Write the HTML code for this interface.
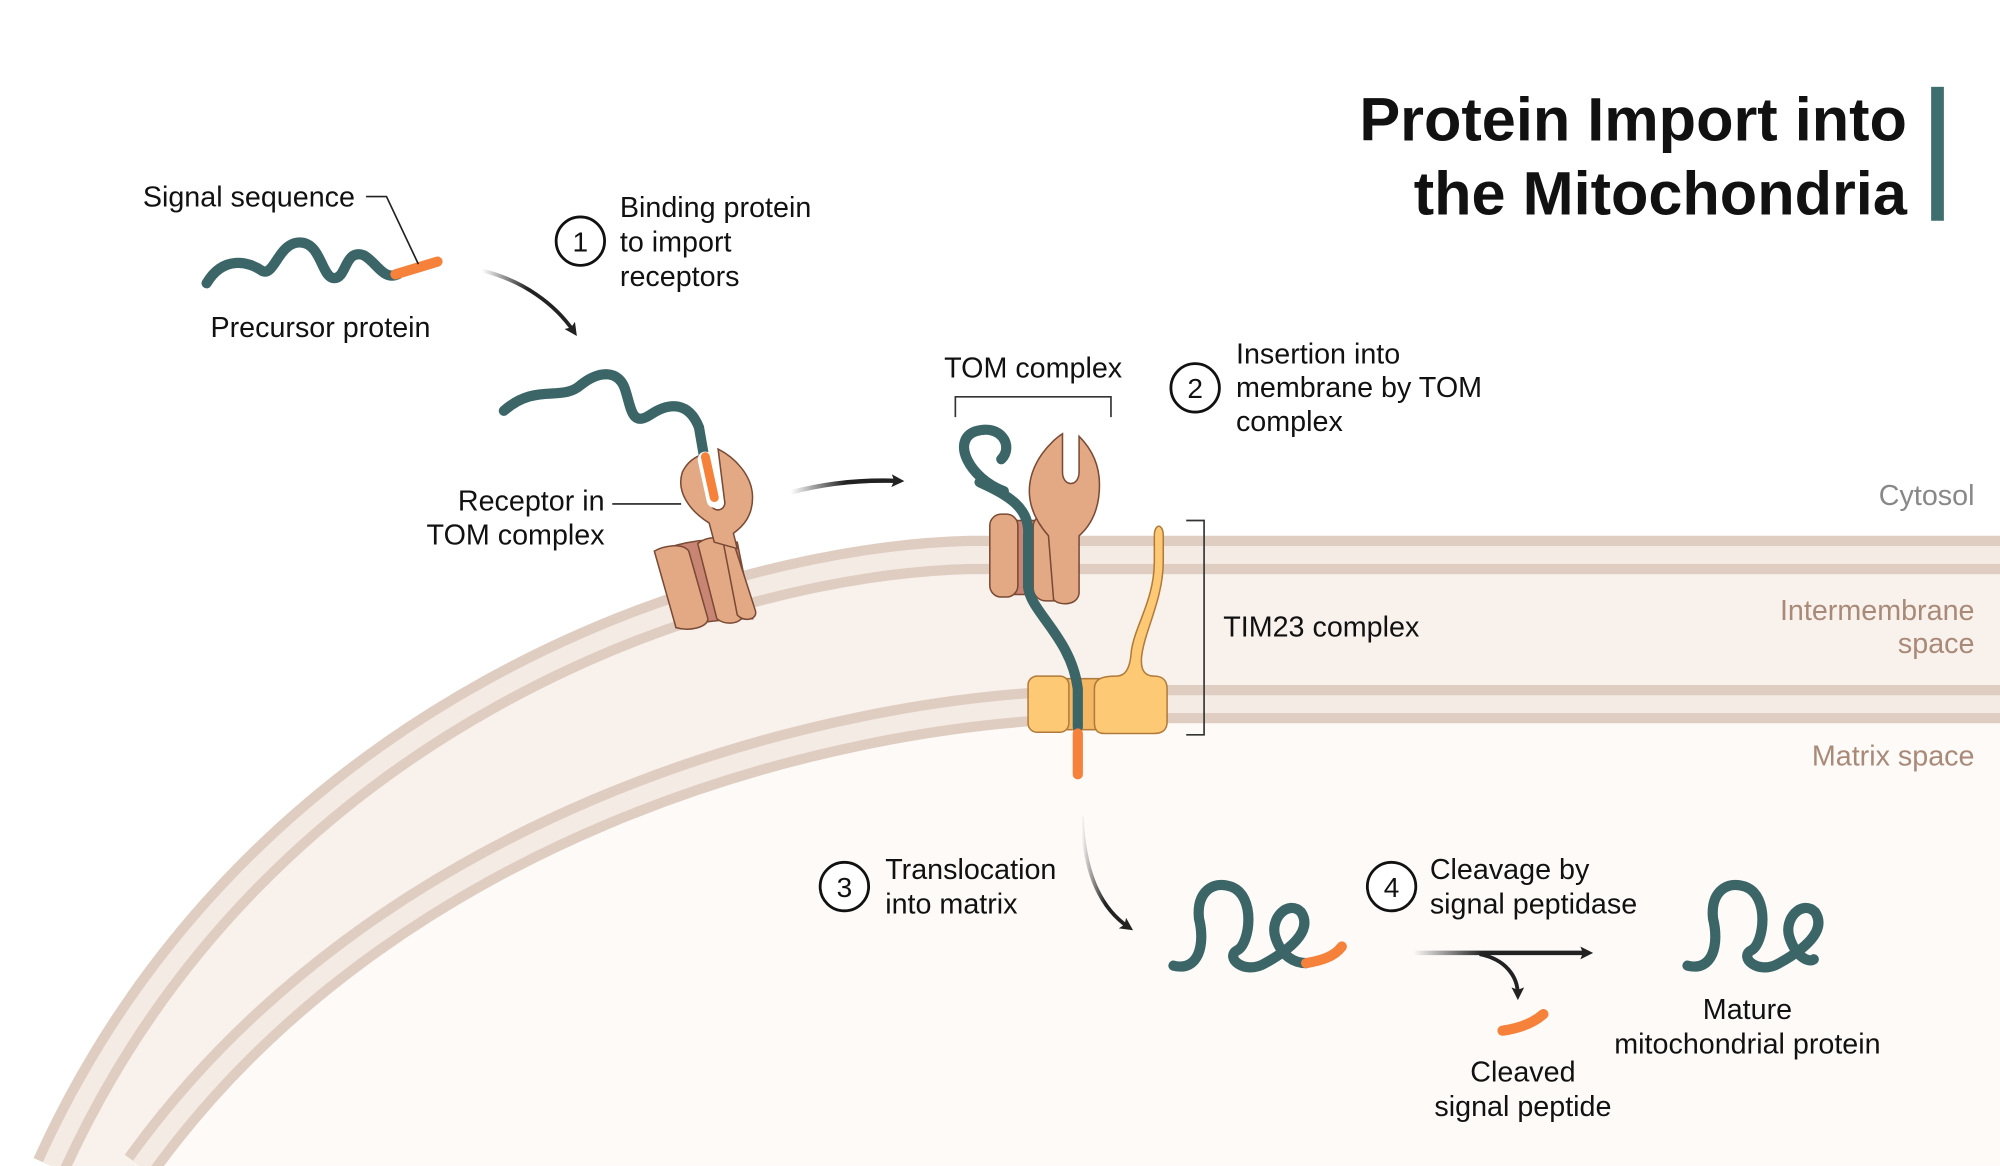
<!DOCTYPE html>
<html><head><meta charset="utf-8"><style>
html,body{margin:0;padding:0;background:#fff}
svg{display:block}
text{font-family:"Liberation Sans",sans-serif;fill:#111}
</style></head><body>
<svg width="2000" height="1166" viewBox="0 0 1568 914" xmlns="http://www.w3.org/2000/svg">
<defs>
<marker id="ah" markerWidth="10" markerHeight="10" refX="6" refY="5" orient="auto" markerUnits="userSpaceOnUse"><path d="M0,0 L10,5 L0,10 L2,5Z" fill="#222"/></marker>
<linearGradient id="fade" x1="0" x2="1"><stop offset="0" stop-color="#222" stop-opacity="0"/><stop offset="0.5" stop-color="#222"/></linearGradient>
<linearGradient id="fadeH" gradientUnits="userSpaceOnUse" x1="1108" y1="0" x2="1245" y2="0"><stop offset="0" stop-color="#222" stop-opacity="0"/><stop offset="0.4" stop-color="#222"/></linearGradient>
</defs>
<rect width="1568" height="914" fill="#fff"/>
<path d="M1568,435 L760,435 C560,440 200,560 40,914 L110,914 C300,650 640,555 860,552 L1568,552Z" fill="#f8f1ec"/>
<path d="M1568,552 L860,552 C640,555 300,650 110,914 L1568,914Z" fill="#fdfaf8"/>
<g fill="none">
<path d="M1568,435 L760,435 C560,440 200,560 40,914" stroke="#e0cdc1" stroke-width="30"/>
<path d="M1568,435 L760,435 C560,440 200,560 40,914" stroke="#f4ebe5" stroke-width="14"/>
<path d="M1568,552 L860,552 C640,555 300,650 110,914" stroke="#e0cdc1" stroke-width="30"/>
<path d="M1568,552 L860,552 C640,555 300,650 110,914" stroke="#f4ebe5" stroke-width="14"/>
</g>
<text x="1495" y="110" text-anchor="end" font-size="48" font-weight="bold">Protein Import into</text>
<text x="1495" y="168" text-anchor="end" font-size="48" font-weight="bold">the Mitochondria</text>
<rect x="1514" y="68" width="10" height="105" fill="#3f6e6e"/>
<g font-size="22.5" text-anchor="end">
<text x="1548" y="396" style="fill:#888">Cytosol</text>
<text x="1548" y="486" style="fill:#a98a78">Intermembrane</text>
<text x="1548" y="512" style="fill:#a98a78">space</text>
<text x="1548" y="600" style="fill:#a98a78">Matrix space</text>
</g>
<path d="M162,222 C175,200 195,205 205,212 C215,218 218,190 235,190 C252,190 252,218 262,218 C272,218 270,195 285,200 C295,205 300,220 312,215" fill="none" stroke="#3b6566" stroke-width="8" stroke-linecap="round"/>
<path d="M310,215 L343,205" stroke="#f5813a" stroke-width="8" stroke-linecap="round"/>
<g font-size="22.5">
<text x="112" y="162">Signal sequence</text>
<text x="165" y="264">Precursor protein</text>
</g>
<path d="M287,154 L303,154 L328,207" fill="none" stroke="#222" stroke-width="1.3"/>
<circle cx="455" cy="189" r="19" fill="#fff" stroke="#111" stroke-width="2.2"/>
<text x="455" y="197" font-size="22" text-anchor="middle">1</text>
<g font-size="22.5"><text x="486" y="170">Binding protein</text><text x="486" y="197">to import</text><text x="486" y="224">receptors</text></g>
<path d="M378,212 C410,220 435,238 450,260" fill="none" stroke="url(#fade)" stroke-width="3" marker-end="url(#ah)"/>
<g stroke="#7a4a35" stroke-width="1.2">
<path d="M515,432 L530,492 C545,488 570,485 590,485 L578,425 C560,420 535,425 515,432Z" fill="#c98573"/>
<path d="M513,432 C520,428 535,425 540,432 L555,485 C555,492 540,495 530,492Z" fill="#e3a985"/>
<path d="M547,426 C555,420 565,420 570,426 L583,482 C580,490 568,490 562,485Z" fill="#e3a985"/>
<path d="M567,425 L575,425 L592,478 C595,486 583,488 578,482Z" fill="#e3a985"/>
<path d="M560,425 L556,410 C540,400 530,385 535,370 C540,360 548,357 552,356 L557,395 C560,403 570,400 568,392 L563,352 C575,358 590,372 590,390 C590,405 582,413 575,418 L578,430Z" fill="#e3a985"/>
</g>
<path d="M395,322 C420,300 440,315 455,302 C470,290 485,290 490,305 C495,320 495,335 510,325 C525,315 540,315 548,335 L552,358" fill="none" stroke="#3b6566" stroke-width="8" stroke-linecap="round"/>
<path d="M553,360 L560,392" stroke="#fff" stroke-width="12" stroke-linecap="round"/>
<path d="M553,358 L560,390" stroke="#f5813a" stroke-width="7" stroke-linecap="round"/>
<path d="M480,395 L534,395" stroke="#222" stroke-width="1.3"/>
<g font-size="22.5" text-anchor="end"><text x="474" y="400">Receptor in</text><text x="474" y="427">TOM complex</text></g>
<path d="M620,386 C650,378 680,376 705,377" fill="none" stroke="url(#fade)" stroke-width="3.5" marker-end="url(#ah)"/>
<text x="810" y="296" font-size="22.5" text-anchor="middle">TOM complex</text>
<path d="M749,327 L749,311 L871,311 L871,327" fill="none" stroke="#333" stroke-width="1.3"/>
<circle cx="937" cy="304" r="19" fill="#fff" stroke="#111" stroke-width="2.2"/>
<text x="937" y="312" font-size="22" text-anchor="middle">2</text>
<g font-size="22.5"><text x="969" y="285">Insertion into</text><text x="969" y="311">membrane by TOM</text><text x="969" y="338">complex</text></g>
<g stroke="#7a4a35" stroke-width="1.2">
<rect x="784" y="408" width="50" height="58" fill="#c98573"/>
<rect x="776" y="403" width="22" height="65" rx="9" fill="#e3a985"/>
<rect x="810" y="403" width="30" height="68" rx="10" fill="#e3a985"/>
<path d="M826,470 C830,475 845,475 846,465 L846,420 C855,412 862,400 862,380 C862,360 852,348 846,342 L846,370 C846,382 833,382 833,370 L833,340 C825,345 807,362 807,385 C807,400 815,412 822,420Z" fill="#e3a985"/>
</g>
<g stroke="#b07a3a" stroke-width="1.2">
<rect x="832" y="532" width="30" height="40" fill="#f4b865"/>
<rect x="806" y="530" width="32" height="44" rx="7" fill="#fdc974"/>
<path d="M858,540 C858,532 864,530 875,530 C882,530 886,525 887,510 C890,490 905,470 905,440 L905,420 C905,410 912,410 912,420 L912,440 C912,470 897,495 895,515 C894,526 898,530 905,530 C912,530 915,534 915,540 L915,566 C915,573 910,575 905,575 L866,575 C860,575 858,572 858,566Z" fill="#fdc974"/>
</g>
<path d="M787,385 C760,375 745,345 765,338 C785,332 795,350 785,360" fill="none" stroke="#3b6566" stroke-width="8" stroke-linecap="round"/>
<path d="M768,378 C790,388 808,398 806,420 L806,460 C808,480 840,500 845,540 L845,570" fill="none" stroke="#3b6566" stroke-width="8" stroke-linecap="round"/>
<path d="M845,575 L845,607" stroke="#f5813a" stroke-width="8" stroke-linecap="round"/>
<path d="M930,408 L944,408 L944,576 L930,576" fill="none" stroke="#333" stroke-width="1.3"/>
<text x="959" y="499" font-size="22.5">TIM23 complex</text>
<path d="M848,640 C850,680 860,710 885,727" fill="none" stroke="url(#fade)" stroke-width="3" marker-end="url(#ah)"/>
<circle cx="662" cy="695" r="19" fill="#fff" stroke="#111" stroke-width="2.2"/>
<text x="662" y="703" font-size="22" text-anchor="middle">3</text>
<g font-size="22.5"><text x="694" y="689">Translocation</text><text x="694" y="716">into matrix</text></g>
<path d="M920,757 C940,762 945,740 940,720 C938,700 950,690 965,695 C985,702 980,740 970,745 C960,750 975,765 992,755 C1010,745 1030,730 1020,715 C1010,705 995,720 1000,735 C1005,750 1015,755 1024,755" fill="none" stroke="#3b6566" stroke-width="8" stroke-linecap="round"/>
<path d="M1024,755 C1036,753 1046,750 1052,742" fill="none" stroke="#f5813a" stroke-width="8" stroke-linecap="round"/>
<circle cx="1091" cy="695" r="19" fill="#fff" stroke="#111" stroke-width="2.2"/>
<text x="1091" y="703" font-size="22" text-anchor="middle">4</text>
<g font-size="22.5"><text x="1121" y="689">Cleavage by</text><text x="1121" y="716">signal peptidase</text></g>
<path d="M1108,747 L1245,747" stroke="url(#fadeH)" stroke-width="3.5" marker-end="url(#ah)"/>
<path d="M1160,748 C1180,752 1190,765 1190,780" fill="none" stroke="#222" stroke-width="3" marker-end="url(#ah)"/>
<path d="M1178,808 C1192,806 1202,802 1210,795" fill="none" stroke="#f5813a" stroke-width="8" stroke-linecap="round"/>
<g font-size="22.5" text-anchor="middle"><text x="1194" y="848">Cleaved</text><text x="1194" y="875">signal peptide</text></g>
<path d="M1323,757 C1343,762 1348,740 1343,720 C1341,700 1353,690 1368,695 C1388,702 1383,740 1373,745 C1363,750 1378,765 1395,755 C1413,745 1433,730 1423,715 C1413,705 1398,720 1403,735 C1408,750 1418,755 1422,752" fill="none" stroke="#3b6566" stroke-width="8" stroke-linecap="round"/>
<g font-size="22.5" text-anchor="middle"><text x="1370" y="799">Mature</text><text x="1370" y="826">mitochondrial protein</text></g>
</svg>
</body></html>
